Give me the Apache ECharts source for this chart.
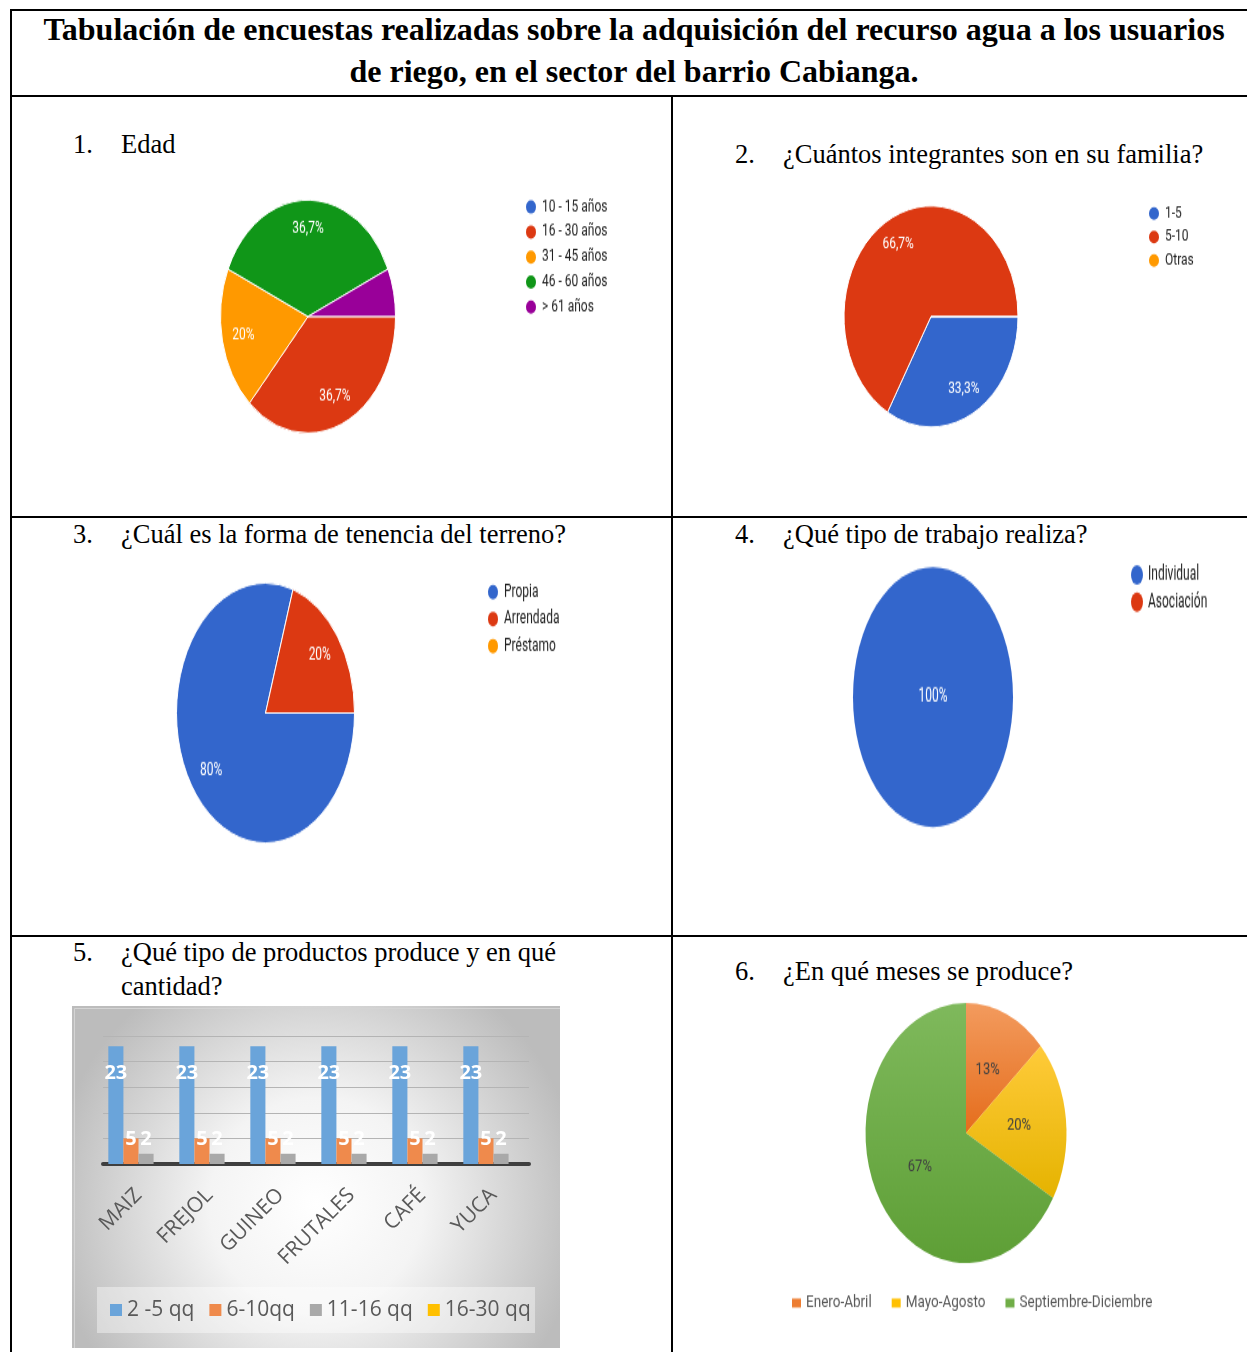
<!DOCTYPE html>
<html lang="es">
<head>
<meta charset="utf-8">
<title>Tabulación de encuestas – barrio Cabianga</title>
<script src="https://cdn.jsdelivr.net/npm/echarts@6/dist/echarts.min.js"></script>
<style>
html,body{margin:0;padding:0;background:#fff;}
body{position:relative;width:1247px;height:1352px;overflow:hidden;}
.rule{position:absolute;background:#000;}
.t{position:absolute;white-space:nowrap;font-family:'Liberation Serif','Times New Roman',serif;line-height:1;color:#000;}
.h{font-weight:bold;font-size:32px;left:11px;width:1246px;text-align:center;}
.q{font-size:26.5px;}
.chart{position:absolute;transform-origin:0 0;}
</style>
</head>
<body>
<!-- table rules -->
<div class="rule" style="left:10px;top:9px;width:1237px;height:2px"></div>
<div class="rule" style="left:10px;top:95px;width:1237px;height:2px"></div>
<div class="rule" style="left:10px;top:516px;width:1237px;height:2px"></div>
<div class="rule" style="left:10px;top:935px;width:1237px;height:2px"></div>
<div class="rule" style="left:10px;top:9px;width:2px;height:1343px"></div>
<div class="rule" style="left:671px;top:95px;width:2px;height:1257px"></div>

<!-- heading -->
<div class="t h" style="top:13px">Tabulación de encuestas realizadas sobre la adquisición del recurso agua a los usuarios</div>
<div class="t h" style="top:55px">de riego, en el sector del barrio Cabianga.</div>

<!-- questions -->
<div class="t q" style="left:73px;top:131px">1.</div><div class="t q" style="left:121px;top:131px">Edad</div>
<div class="t q" style="left:735px;top:141px">2.</div><div class="t q" style="left:783px;top:141px">¿Cuántos integrantes son en su familia?</div>
<div class="t q" style="left:73px;top:521px">3.</div><div class="t q" style="left:121px;top:521px">¿Cuál es la forma de tenencia del terreno?</div>
<div class="t q" style="left:735px;top:521px">4.</div><div class="t q" style="left:783px;top:521px">¿Qué tipo de trabajo realiza?</div>
<div class="t q" style="left:73px;top:939px">5.</div><div class="t q" style="left:121px;top:939px">¿Qué tipo de productos produce y en qué</div>
<div class="t q" style="left:121px;top:973px">cantidad?</div>
<div class="t q" style="left:735px;top:958px">6.</div><div class="t q" style="left:783px;top:958px">¿En qué meses se produce?</div>

<div id="c1" class="chart"></div>
<div id="c2" class="chart"></div>
<div id="c3" class="chart"></div>
<div id="c4" class="chart"></div>
<div id="c5" class="chart"></div>
<div id="c6" class="chart"></div>

<script>
// ---- survey data (30 respondents) ----
const edadCats = ['10 - 15 años', '16 - 30 años', '31 - 45 años', '46 - 60 años', '> 61 años'];
const edadVals = [0, 11, 6, 11, 2];

const familiaCats = ['1-5', '5-10', 'Otras'];
const familiaVals = [10, 20, 0];

const tenenciaCats = ['Propia', 'Arrendada', 'Préstamo'];
const tenenciaVals = [24, 6, 0];

const trabajoCats = ['Individual', 'Asociación'];
const trabajoVals = [30, 0];

const productos = ['MAIZ', 'FREJOL', 'GUINEO', 'FRUTALES', 'CAFÉ', 'YUCA'];
const cantidadNames = ['2 -5 qq', '6-10qq', '11-16 qq', '16-30 qq'];
const cant2a5 = [23, 23, 23, 23, 23, 23];
const cant6a10 = [5, 5, 5, 5, 5, 5];
const cant11a16 = [2, 2, 2, 2, 2, 2];
const cant16a30 = [0, 0, 0, 0, 0, 0];

const mesesCats = ['Enero-Abril', 'Mayo-Agosto', 'Septiembre-Diciembre'];
const mesesVals = [4, 6, 20];

// ---- helpers ----
const GOOGLE = ['#3366cc', '#dc3912', '#ff9900', '#109618', '#990099'];
const sum = a => a.reduce((x, y) => x + y, 0);

function pct1(v, total) {
  const p = v / total * 100;
  if (p < 10) return '';
  let t = (Math.round(p * 10) / 10).toFixed(1);
  if (t.endsWith('.0')) t = t.slice(0, -2);
  return t.replace('.', ',') + '%';
}

// Place a chart box; pies are drawn as circles and stretched vertically by s
function placeBox(id, cell, s) {
  const el = document.getElementById(id);
  el.style.left = cell.x + 'px';
  el.style.top = cell.y + 'px';
  el.style.width = cell.w + 'px';
  el.style.height = (cell.h / s) + 'px';
  if (s !== 1) el.style.transform = 'scaleY(' + s + ')';
  return echarts.init(el, null, { renderer: 'canvas' });
}

const LEG_ROW = 16; // legend row height (unscaled)

function googlePie(cfg) {
  const { id, cell, s, cx, cy, rx, names, values, legend, centerLabel, border } = cfg;
  const chart = placeBox(id, cell, s);
  const total = sum(values);
  const center = [cx - cell.x, (cy - cell.y) / s];
  const data = names.map((n, i) => ({ name: n, value: values[i] }));
  const labelStyle = {
    show: true, color: '#fff', fontFamily: 'Roboto', fontSize: 12,
    formatter: p => p.value > 0 ? pct1(p.value, total) : ''
  };
  const series = [{
    type: 'pie', radius: [0, rx], center, startAngle: 0, clockwise: true,
    color: GOOGLE, data, silent: true, animation: false,
    label: { show: false }, labelLine: { show: false },
    itemStyle: { borderColor: '#fff', borderWidth: border }
  }];
  if (centerLabel) {
    series.push({
      type: 'pie', radius: [0, rx], center, startAngle: 0, clockwise: true,
      color: GOOGLE, data, silent: true, animation: false,
      itemStyle: { color: 'rgba(0,0,0,0)', borderWidth: 0 },
      label: Object.assign({ position: 'center' }, labelStyle), labelLine: { show: false }
    });
  } else {
    // label ring: puts slice labels at ~0.72 of the radius
    series.push({
      type: 'pie', radius: [rx * 0.44, rx], center, startAngle: 0, clockwise: true,
      color: GOOGLE, data, silent: true, animation: false,
      itemStyle: { color: 'rgba(0,0,0,0)', borderWidth: 0 },
      label: Object.assign({ position: 'inside' }, labelStyle), labelLine: { show: false }
    });
  }
  chart.setOption({
    animation: false,
    legend: {
      orient: 'vertical', selectedMode: false, padding: 0,
      left: legend.x - cell.x - 6,
      top: (legend.y - cell.y) / s - LEG_ROW / 2,
      itemGap: legend.step / s - LEG_ROW,
      icon: 'circle', itemWidth: 12, itemHeight: 13.5,
      textStyle: { fontFamily: 'Roboto', fontSize: 12, color: '#222', lineHeight: LEG_ROW },
      data: names.map((n, i) => ({ name: n, itemStyle: { color: GOOGLE[i] } }))
    },
    series
  });
}

// 1. Edad
googlePie({
  id: 'c1', cell: { x: 12, y: 97, w: 659, h: 419 }, s: 116.5 / 87.5,
  cx: 308, cy: 316.5, rx: 87.5, names: edadCats, values: edadVals,
  legend: { x: 530, y: 207, step: 25 }, border: 1
});
// 2. Integrantes de la familia
googlePie({
  id: 'c2', cell: { x: 673, y: 97, w: 574, h: 419 }, s: 110.5 / 87,
  cx: 931, cy: 316.5, rx: 87, names: familiaCats, values: familiaVals,
  legend: { x: 1153, y: 213.5, step: 23.5 }, border: 1
});
// 3. Tenencia del terreno
googlePie({
  id: 'c3', cell: { x: 12, y: 518, w: 659, h: 417 }, s: 130 / 89,
  cx: 265.5, cy: 713, rx: 89, names: tenenciaCats, values: tenenciaVals,
  legend: { x: 492, y: 592, step: 27 }, border: 1
});
// 4. Tipo de trabajo
googlePie({
  id: 'c4', cell: { x: 673, y: 518, w: 574, h: 417 }, s: 130 / 80,
  cx: 933, cy: 697, rx: 80, names: trabajoCats, values: trabajoVals,
  legend: { x: 1137, y: 575, step: 27 }, border: 0, centerLabel: true
});

// 5. Productos y cantidad (bar chart)
(function () {
  const chart = placeBox('c5', { x: 72, y: 1006, w: 488, h: 342 }, 1);
  const barColors = ['#6aa4da', '#ef8a4c', '#a9a9a9', '#ffc000'];
  const lbl = (offset, position) => ({
    show: true, position, offset, color: '#fff', fontFamily: 'Open Sans',
    fontWeight: 'bold', fontSize: 20
  });
  const mk = (name, vals, color, label) => ({
    type: 'bar', name, data: vals, barGap: '0%', barCategoryGap: '15%',
    itemStyle: { color }, label: label || { show: false }, silent: true
  });
  chart.setOption({
    animation: false,
    backgroundColor: {
      type: 'radial', x: 0.5, y: 0.58, r: 0.78,
      colorStops: [
        { offset: 0, color: '#ffffff' },
        { offset: 0.4, color: '#f4f4f4' },
        { offset: 1, color: '#bcbcbc' }
      ]
    },
    graphic: [
      { type: 'rect', left: 0, top: 0, shape: { width: 487, height: 341 }, style: { fill: 'none', stroke: '#d4d4d4', lineWidth: 1 }, silent: true },
      { type: 'rect', left: 25, top: 281, shape: { width: 438, height: 46 }, style: { fill: 'rgba(255,255,255,0.4)' }, silent: true, z: -1 }
    ],
    grid: { left: 31, right: 31, top: 30, bottom: 184 },
    legend: {
      left: 38, top: 292, selectedMode: false, icon: 'rect', padding: 0,
      itemWidth: 12, itemHeight: 12, itemGap: 15,
      textStyle: { fontFamily: 'Open Sans', fontSize: 21, color: '#595959', lineHeight: 24 },
      data: cantidadNames
    },
    xAxis: {
      type: 'category', data: productos,
      axisTick: { show: false },
      axisLine: { lineStyle: { color: '#3f3f3f', width: 4 } },
      axisLabel: { rotate: 45, margin: 28, interval: 0, fontFamily: 'Open Sans', fontSize: 21, color: '#595959' }
    },
    yAxis: {
      type: 'value', min: 0, max: 25, interval: 5,
      axisLabel: { show: false }, axisLine: { show: false }, axisTick: { show: false },
      splitLine: { lineStyle: { color: '#b4b4b4', width: 1 } }
    },
    series: [
      mk(cantidadNames[0], cant2a5, barColors[0], lbl([0, 12], 'insideTop')),
      mk(cantidadNames[1], cant6a10, barColors[1], lbl([0, 16], 'top')),
      mk(cantidadNames[2], cant11a16, barColors[2], lbl([0, 1], 'top')),
      mk(cantidadNames[3], cant16a30, barColors[3])
    ]
  });
})();

// 6. Meses de producción
(function () {
  const cell = { x: 673, y: 937, w: 574, h: 415 };
  const s = 130 / 100.5;
  const cx = 966, cy = 1133, rx = 100.5;
  const chart = placeBox('c6', cell, s);
  const grads = [
    ['#f39b5e', '#e56d1c'],
    ['#ffcb3a', '#e5b300'],
    ['#7fb95c', '#5e9f36']
  ];
  const solid = ['#ed7d31', '#ffc000', '#70ad47'];
  const total = sum(mesesVals);
  chart.setOption({
    animation: false,
    legend: {
      orient: 'horizontal', selectedMode: false, padding: 0,
      left: 792 - cell.x, top: (1303 - cell.y) / s - 8,
      icon: 'rect', itemWidth: 9, itemHeight: 9 / s, itemGap: 20,
      textStyle: { fontFamily: 'Roboto', fontSize: 13.5, color: '#595959', lineHeight: 16 },
      data: mesesCats.map((n, i) => ({ name: n, itemStyle: { color: solid[i] } }))
    },
    series: [{
      type: 'pie', radius: [0, rx], center: [cx - cell.x, (cy - cell.y) / s],
      startAngle: 90, clockwise: true, silent: true, animation: false,
      data: mesesCats.map((n, i) => ({
        name: n, value: mesesVals[i],
        itemStyle: {
          color: {
            type: 'linear', x: 0, y: 0, x2: 0, y2: 1,
            colorStops: [{ offset: 0, color: grads[i][0] }, { offset: 1, color: grads[i][1] }]
          }
        }
      })),
      itemStyle: { borderWidth: 0 },
      label: {
        show: true, position: 'inside', color: '#404040', fontFamily: 'Roboto', fontSize: 13,
        formatter: p => Math.round(p.value / total * 100) + '%'
      },
      labelLine: { show: false }
    }]
  });
})();
</script>
</body>
</html>
